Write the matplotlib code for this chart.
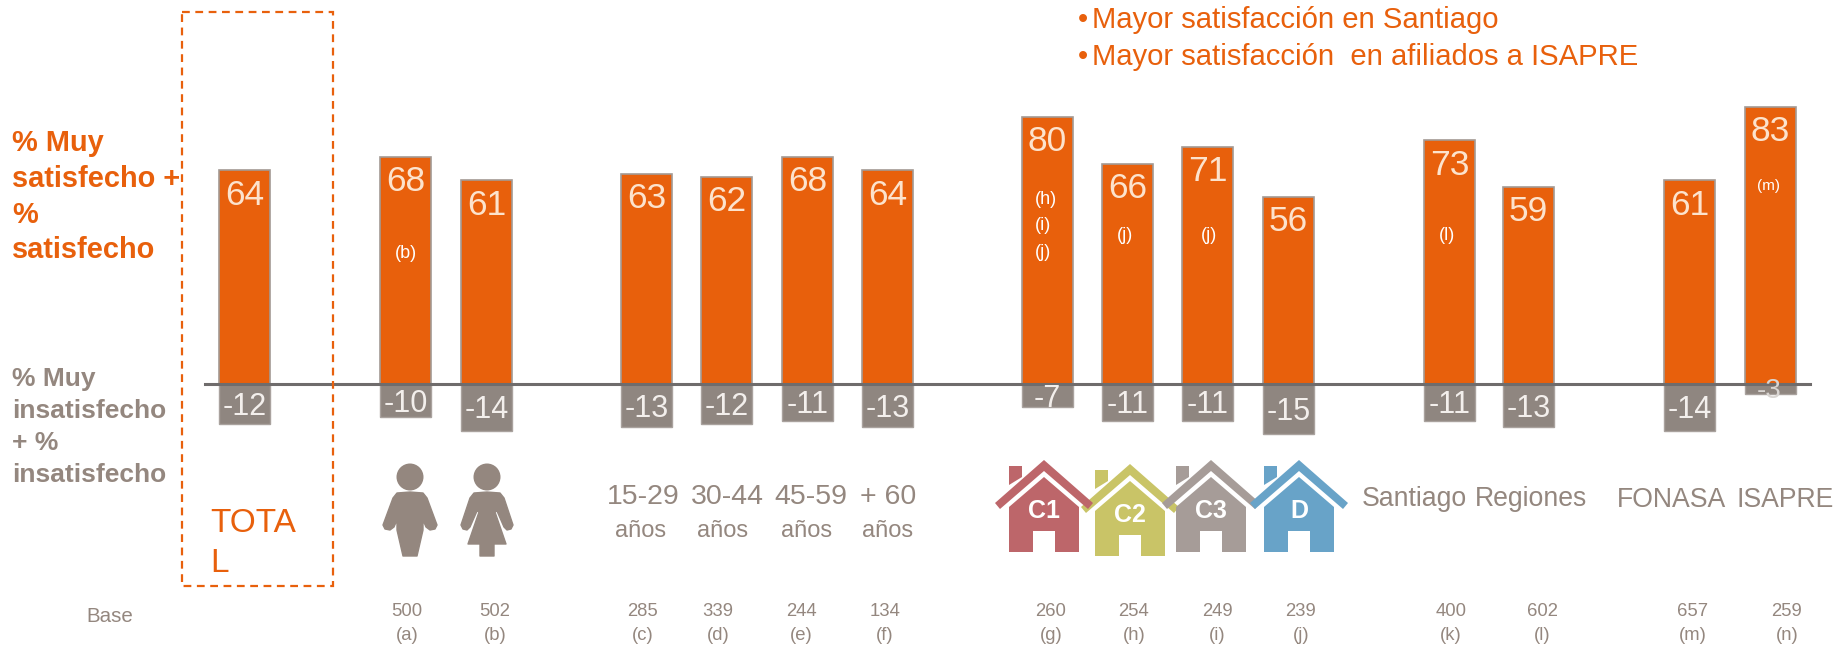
"""Satisfaction bars by segment, redrawn on a pixel-sized canvas."""

import matplotlib

matplotlib.use("Agg")

import matplotlib.pyplot as plt
from matplotlib.patches import Circle, Polygon, Rectangle

plt.rcParams["font.family"] = ["Liberation Sans", "DejaVu Sans"]

W, H = 1839, 647
ZERO_Y = 384
PX_PER_UNIT = 3.34

ORANGE = "#e8600c"
GREY = "#8f8680"
TEXT_GREY = "#94877f"
PEACH = "#fce3cd"

# values
positive = [64, 68, 61, 63, 62, 68, 64, 80, 66, 71, 56, 73, 59, 61, 83]
negative = [-12, -10, -14, -13, -12, -11, -13, -7, -11, -11, -15, -11, -13, -14, -3]
bases = [500, 502, 285, 339, 244, 134, 260, 254, 249, 239, 400, 602, 657, 259]
base_letters = list("abcdefghijklmn")
bar_notes = ["(b)", "(h)\n(i)\n(j)", "(j)", "(j)", "(l)", "(m)"]
age_labels = ["15-29", "30-44", "45-59", "+ 60"]
nse_labels = ["C2", "C1", "C3", "D"]
nse_colors = ["#c9c467", "#bd666a", "#a69c98", "#68a3c8"]

# layout, in image pixels
bar_x = [244.5, 405.5, 486.5, 646.5, 726.5, 807.5, 887.5, 1047.5, 1128, 1207.5, 1288.5, 1449.5, 1528.5, 1689.5, 1770.5]
base_x = [407, 495, 643, 718, 801, 885, 1051, 1134, 1217, 1301, 1451, 1542, 1693, 1787]
note_x = [406, 1035, 1125, 1209, 1447, 1769]
note_y = [253, 226, 236, 236, 235, 186]
age_x = [643, 727, 811, 888]
anos_x = [641, 723, 807, 888]
nse_x = [1130, 1044, 1211, 1299]
nse_top = [464, 460, 460, 460]


def draw_house(ax, cx, top, color, label, z):
    # chimney, roof band and body with door, relative to the roof peak
    ax.add_patch(Polygon([(cx - 35, top + 6), (cx - 22, top + 6), (cx - 22, top + 17), (cx - 35, top + 25)],
                         color=color, lw=0, zorder=z))
    ax.add_patch(Polygon([(cx, top), (cx + 49, top + 43), (cx + 44, top + 49), (cx, top + 11),
                          (cx - 44, top + 49), (cx - 49, top + 43)], color=color, lw=0, zorder=z))
    ax.add_patch(Polygon([(cx, top + 17), (cx + 35, top + 47), (cx + 35, top + 92), (cx + 11, top + 92),
                          (cx + 11, top + 71), (cx - 11, top + 71), (cx - 11, top + 92),
                          (cx - 35, top + 92), (cx - 35, top + 47)], color=color, lw=0, zorder=z))
    ax.text(cx, top + 51, label, color="white", fontsize=18, fontweight="bold",
            ha="center", va="center", zorder=z)


def draw_person(ax, cx, half):
    ax.add_patch(Circle((cx, 477), 13.5, color=TEXT_GREY, lw=0))
    right = [(x, y) for x, y in half]
    left = [(-x, y) for x, y in reversed(half)]
    ax.add_patch(Polygon([(cx + x, y) for x, y in right + left], facecolor=TEXT_GREY,
                         edgecolor=TEXT_GREY, lw=1.0, joinstyle="round"))


# right half outlines, mirrored for the left side
man_half = [(0, 492), (13, 493), (17, 498), (27, 525), (25, 529), (20, 530), (16, 527), (13, 520),
            (13, 530), (7, 556)]
woman_half = [(0, 492), (13, 493), (17, 498), (26, 525), (24, 529), (20, 530), (17, 527), (10, 511),
              (8, 512), (19, 544), (7, 544), (7, 556)]


def main():
    fig = plt.figure(figsize=(W / 100, H / 100), dpi=100)

    ax = fig.add_axes([0, 0, 1, 1])
    ax.set_xlim(0, W)
    ax.set_ylim(-(H - ZERO_Y) / PX_PER_UNIT, ZERO_Y / PX_PER_UNIT)
    ax.axis("off")
    ax.bar(bar_x, positive, width=51, color=ORANGE, edgecolor="#a39a94", linewidth=1.2, zorder=2)
    ax.bar(bar_x, negative, width=51, color=GREY, edgecolor="#a9a29e", linewidth=1.0, zorder=2)
    ax.plot([205, 1810], [0, 0], color="#6f6c6c", lw=2.2, zorder=3)

    # overlay in image pixels for texts and icons
    px = fig.add_axes([0, 0, 1, 1], facecolor="none")
    px.set_xlim(0, W)
    px.set_ylim(H, 0)
    px.axis("off")

    for x, pos, neg in zip(bar_x, positive, negative):
        top = ZERO_Y - pos * PX_PER_UNIT
        px.text(x, top + 25, str(pos), color=PEACH, fontsize=25.5, ha="center", va="center", zorder=5)
        bottom = ZERO_Y - neg * PX_PER_UNIT
        if neg == -3:
            px.text(x - 1, 391, str(neg), color="#d9d5d2", fontsize=20, ha="center", va="center", zorder=5)
        else:
            px.text(x, (ZERO_Y + bottom) / 2 + 3, str(neg), color="#f3efec", fontsize=22,
                    ha="center", va="center", zorder=5)

    for x, y, note in zip(note_x, note_y, bar_notes):
        multi = "\n" in note
        px.text(x, y, note, color="white", fontsize=11 if note == "(m)" else 13,
                ha="left" if multi else "center", va="center", linespacing=1.7, zorder=5)

    # total box
    px.add_patch(Rectangle((182, 12), 151, 574, fill=False, edgecolor=ORANGE, lw=1.6, ls=(0, (3.5, 2.5))))
    px.text(210, 524, "TOTA", color=ORANGE, fontsize=24, va="center")
    px.text(210, 563, "L", color=ORANGE, fontsize=24, va="center")

    # left labels
    for y, line in zip([151, 187, 223, 258], ["% Muy", "satisfecho +", "%", "satisfecho"]):
        px.text(12, y, line, color=ORANGE, fontsize=20.9, fontweight="bold", va="baseline")
    for y, line in zip([386, 418, 450, 482], ["% Muy", "insatisfecho", "+ %", "insatisfecho"]):
        px.text(12, y, line, color=TEXT_GREY, fontsize=19, fontweight="bold", va="baseline")

    # callout
    for y, line in zip([28, 65], ["Mayor satisfacción en Santiago", "Mayor satisfacción  en afiliados a ISAPRE"]):
        px.text(1083, y, "•", color=ORANGE, fontsize=21, ha="center", va="baseline")
        px.text(1092, y, line, color=ORANGE, fontsize=21.1, va="baseline")

    # group icons and labels
    draw_person(px, 410, man_half)
    draw_person(px, 487, woman_half)
    for x, label in zip(age_x, age_labels):
        px.text(x, 497, label, color=TEXT_GREY, fontsize=20.5, ha="center", va="center")
    for x in anos_x:
        px.text(x, 531, "años", color=TEXT_GREY, fontsize=17, ha="center", va="center")
    for z, (cx, top, color, label) in enumerate(zip(nse_x, nse_top, nse_colors, nse_labels), start=3):
        draw_house(px, cx, top, color, label, z)
    px.text(1362, 499, "Santiago", color=TEXT_GREY, fontsize=19.2, va="center")
    px.text(1475, 499, "Regiones", color=TEXT_GREY, fontsize=19.2, va="center")
    px.text(1617, 500, "FONASA", color=TEXT_GREY, fontsize=19.2, va="center")
    px.text(1737, 500, "ISAPRE", color=TEXT_GREY, fontsize=19.2, va="center")

    # base row
    px.text(86, 617, "Base", color=TEXT_GREY, fontsize=14.8, va="center")
    for x, base, letter in zip(base_x, bases, base_letters):
        px.text(x, 611, str(base), color=TEXT_GREY, fontsize=13.3, ha="center", va="center")
        px.text(x, 635, f"({letter})", color=TEXT_GREY, fontsize=13.3, ha="center", va="center")

    fig.savefig("out.png", dpi=100)
    plt.close(fig)


if __name__ == "__main__":
    main()
